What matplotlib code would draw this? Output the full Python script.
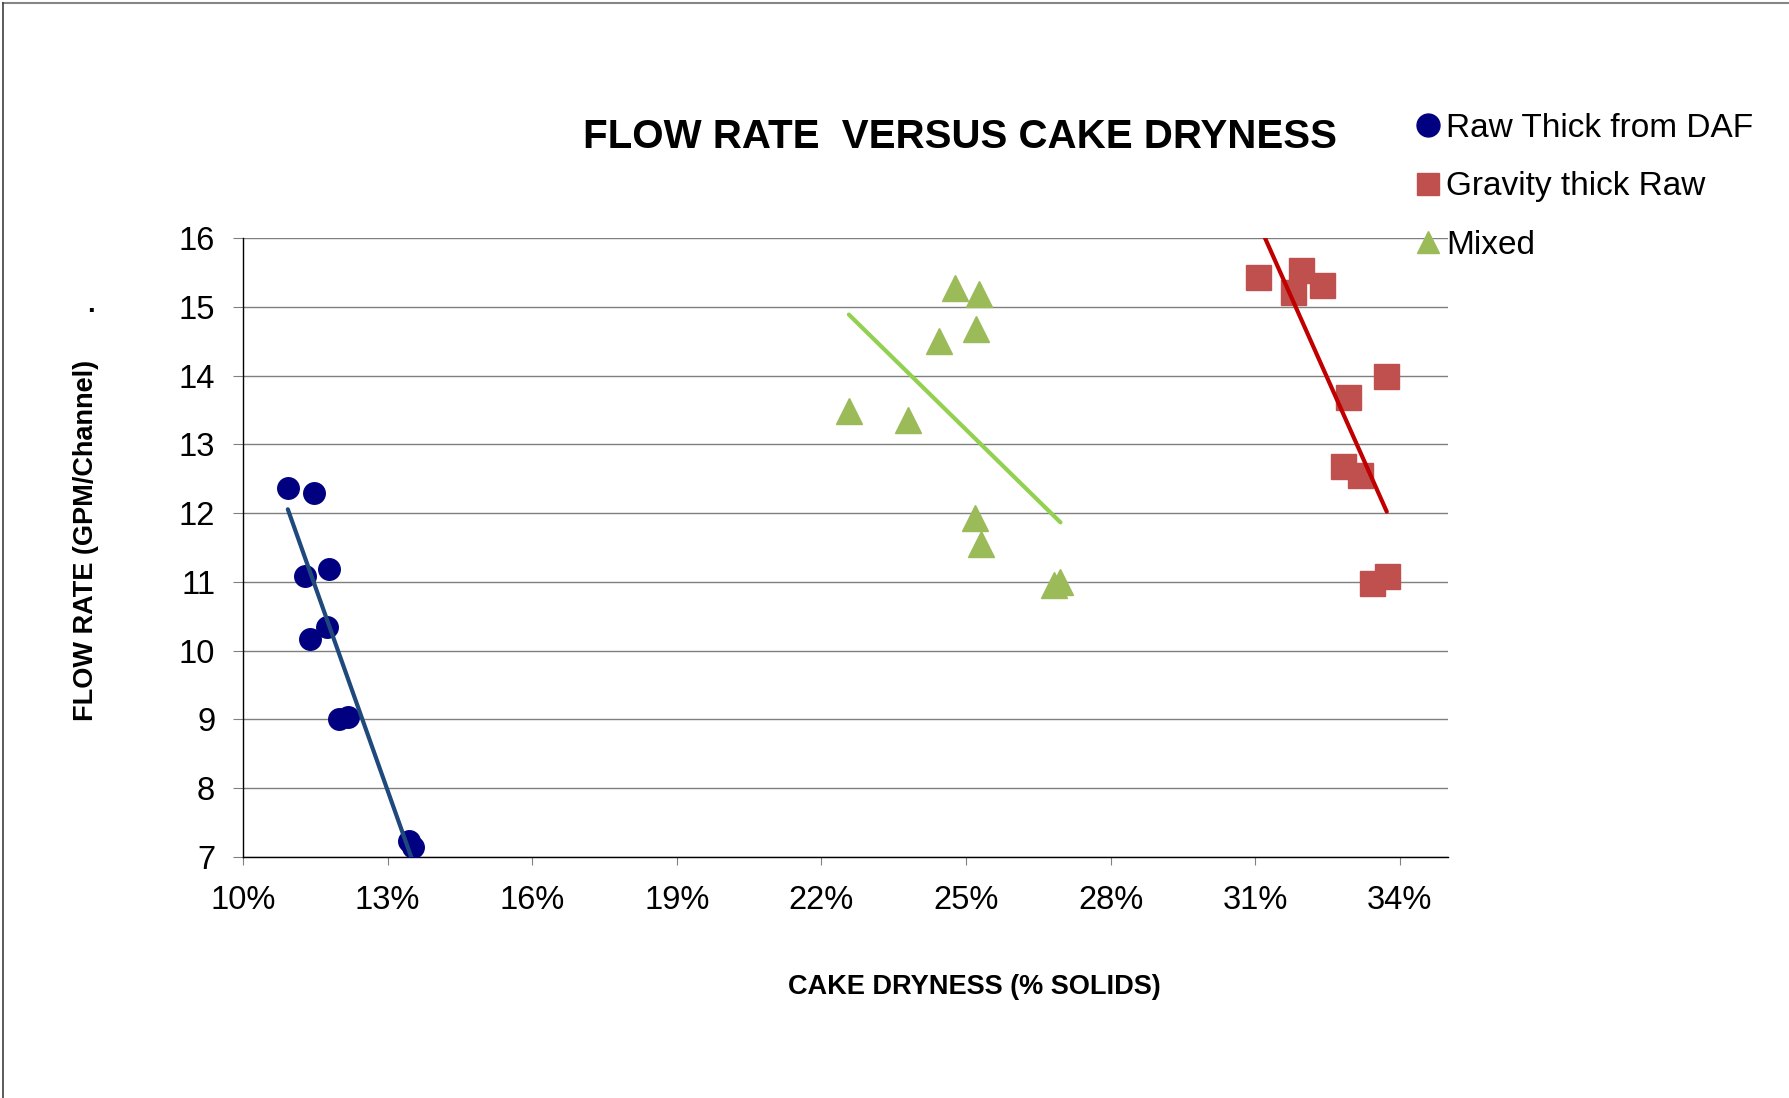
import numpy as np
import matplotlib
matplotlib.use('Agg')
import matplotlib.pyplot as plt
from matplotlib.lines import Line2D
from matplotlib.ticker import PercentFormatter

# cake dryness (fraction solids) and flow rate (GPM/channel)
daf_x = [0.1093, 0.1147, 0.1129, 0.1179, 0.1175, 0.1140, 0.1200, 0.1218, 0.1344, 0.1353]
daf_y = [12.37, 12.29, 11.09, 11.19, 10.35, 10.17, 9.00, 9.03, 7.23, 7.14]

gravity_x = [0.3106, 0.3194, 0.3179, 0.3238, 0.3293, 0.3371, 0.3282, 0.3317, 0.3343, 0.3373]
gravity_y = [15.44, 15.54, 15.21, 15.31, 13.69, 14.00, 12.68, 12.56, 10.98, 11.08]

mixed_x = [0.2477, 0.2527, 0.2520, 0.2443, 0.2257, 0.2380, 0.2518, 0.2531, 0.2683, 0.2696]
mixed_y = [15.28, 15.18, 14.68, 14.50, 13.49, 13.35, 11.93, 11.55, 10.96, 11.00]

series_names = ['Raw Thick from DAF', 'Gravity thick Raw', 'Mixed']
x_ticks = [0.10, 0.13, 0.16, 0.19, 0.22, 0.25, 0.28, 0.31, 0.34]
y_ticks = [7, 8, 9, 10, 11, 12, 13, 14, 15, 16]

W, H = 1789, 1098
plt.rcParams['font.family'] = ['Liberation Sans', 'DejaVu Sans']

fig = plt.figure(figsize=(W / 100, H / 100), dpi=100)
ax = fig.add_axes([243 / W, 1 - 857 / H, (1448 - 243) / W, (857 - 238) / H])

styles = [
    (daf_x, daf_y, 'o', 15.5, '#000080', '#1F497D'),
    (gravity_x, gravity_y, 's', 18.0, '#C0504D', '#C00000'),
    (mixed_x, mixed_y, '^', 18.5, '#9BBB59', '#92D050'),
]
for x, y, marker, size, mcolor, lcolor in styles:
    ax.plot(x, y, linestyle='none', marker=marker, markersize=size,
            color=mcolor, markeredgecolor=mcolor, zorder=3)
for x, y, marker, size, mcolor, lcolor in styles:
    # linear trendline over the data range
    slope, icpt = np.polyfit(x, y, 1)
    xs = np.array([min(x), max(x)])
    ax.plot(xs, slope * xs + icpt, color=lcolor, linewidth=3.0,
            solid_capstyle='round', zorder=4)

ax.set_xlim(0.10, 0.35)
ax.set_ylim(7, 16)
ax.set_xticks(x_ticks)
ax.set_yticks(y_ticks)
ax.xaxis.set_major_formatter(PercentFormatter(xmax=1, decimals=0))
ax.tick_params(axis='both', labelsize=23.5, direction='out', color='#808080')
ax.tick_params(axis='y', length=7, pad=13)
ax.tick_params(axis='x', length=6, pad=14)
ax.grid(axis='y', color='#7F7F7F', linewidth=1.0)
ax.set_axisbelow(True)
for side in ['top', 'right']:
    ax.spines[side].set_visible(False)
for side in ['left', 'bottom']:
    ax.spines[side].set_color('black')
    ax.spines[side].set_linewidth(1.0)

fig.text(960 / W, 1 - 137 / H, 'FLOW RATE  VERSUS CAKE DRYNESS',
         fontsize=29, fontweight='bold', ha='center', va='center')
fig.text(974 / W, 1 - 987 / H, 'CAKE DRYNESS (% SOLIDS)',
         fontsize=19.5, fontweight='bold', ha='center', va='center')
fig.text(86 / W, 1 - 540 / H, 'FLOW RATE (GPM/Channel)', rotation=90,
         fontsize=19.5, fontweight='bold', ha='center', va='center')
fig.text(91 / W, 1 - 305 / H, '.', fontsize=19.5, fontweight='bold',
         ha='center', va='center')

handles = [Line2D([], [], linestyle='none', marker=m, markersize=16.5,
                  color=c, markeredgecolor=c)
           for _, _, m, s, c, _ in styles]
fig.legend(handles, series_names, loc='upper left',
           bbox_to_anchor=(1416 / W, 1 - 113 / H), frameon=False,
           fontsize=24, handlelength=0.7, handletextpad=0.2,
           labelspacing=0.82, borderpad=0, borderaxespad=0)

# chart area border (top and left edges visible)
fig.add_artist(Line2D([3 / W, 1], [1 - 3 / H, 1 - 3 / H], color='#868686',
                      linewidth=1.5))
fig.add_artist(Line2D([3 / W, 3 / W], [0, 1 - 3 / H], color='#404040',
                      linewidth=1.2))

fig.savefig('out.png', dpi=100)
